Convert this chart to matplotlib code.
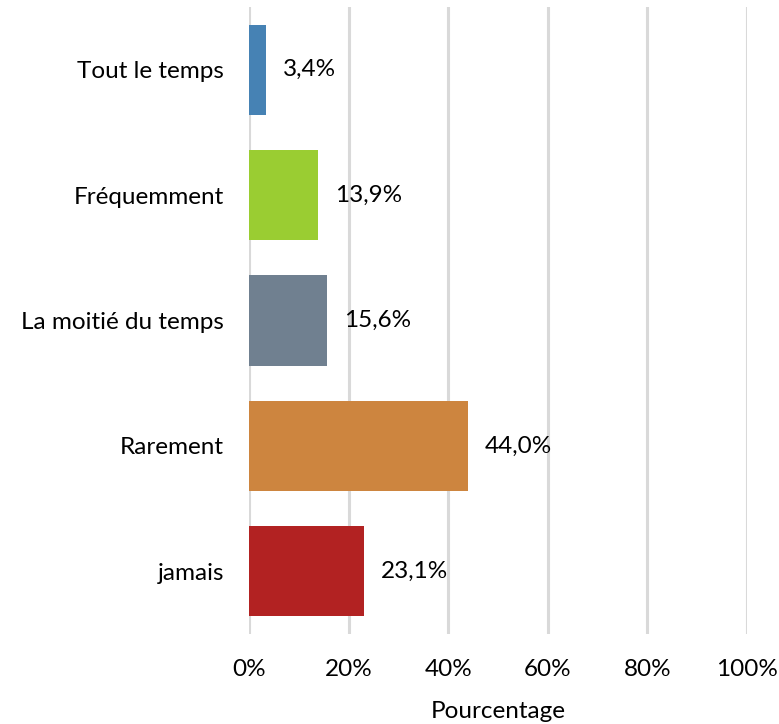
import matplotlib
matplotlib.use("Agg")
import matplotlib.pyplot as plt

categories = ["Tout le temps", "Fréquemment", "La moitié du temps", "Rarement", "jamais"]
values = [3.4, 13.9, 15.6, 44.0, 23.1]
colors = ["steelblue", "yellowgreen", "slategray", "peru", "firebrick"]
xticks = [0, 20, 40, 60, 80, 100]

plt.rcParams["font.family"] = ["Lato", "DejaVu Sans"]
fs = 17.5

fig = plt.figure(figsize=(7.79, 7.24), dpi=100)
ax = fig.add_axes([0.3196, 0.1243, 0.6393, 0.866])

pos = list(range(len(categories)))[::-1]
ax.barh(pos, values, height=0.72, color=colors, zorder=3)

for p, v in zip(pos, values):
    ax.annotate(f"{v:.1f}%".replace(".", ","), xy=(v, p), xytext=(17, 0),
                textcoords="offset pixels", va="center", ha="left", fontsize=fs)

ax.set_xlim(0, 100)
ax.set_ylim(-0.5, len(categories) - 0.5)
ax.set_xticks(xticks)
ax.set_xticklabels([f"{t}%" for t in xticks], fontsize=fs)
ax.set_yticks(pos)
ax.set_yticklabels(categories, fontsize=fs)
ax.tick_params(axis="both", length=0)
ax.tick_params(axis="x", pad=18)
ax.tick_params(axis="y", pad=18)
ax.grid(axis="x", color="#d9d9d9", linewidth=2.2, zorder=0)
for s in ax.spines.values():
    s.set_visible(False)
ax.set_xlabel("Pourcentage", fontsize=fs, labelpad=15)

fig.savefig("out.png", dpi=100)
